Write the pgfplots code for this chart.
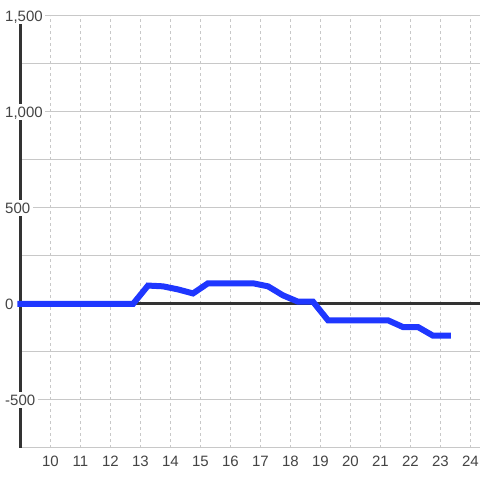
\documentclass[border=0pt]{standalone}
\usepackage{fontspec}
\setmainfont{Liberation Sans}
\usepackage{pgfplots}
\pgfplotsset{compat=1.18}
\definecolor{dark}{HTML}{333333}
\definecolor{grid}{HTML}{C8C8C8}
\definecolor{lbl}{HTML}{444444}
\definecolor{lineblue}{HTML}{1F37FF}
\begin{document}
\begin{tikzpicture}
\useasboundingbox (0,0) rectangle (480pt,480pt);
\begin{axis}[
  at={(20.5pt,32pt)}, anchor=south west,
  scale only axis, width=459.5pt, height=432pt,
  xmin=9, xmax=24.3167, ymin=-750, ymax=1500,
  clip=false,
  /pgf/number format/assume math mode=true,
  axis x line*=bottom, axis y line*=left,
  x axis line style={draw=none},
  y axis line style={draw=dark, line width=3pt, -},
  major tick length=0pt, minor tick length=0pt,
  xtick={10,...,24},
  ytick={-500,0,500,1000,1500},
  yticklabels={-500,0,500,{1,000},{1,500}},
  minor ytick={-750,-250,250,750,1250},
  xmajorgrids, ymajorgrids, yminorgrids,
  x grid style={grid, line width=1pt, dash pattern=on 3pt off 3pt},
  y grid style={grid, line width=1pt},
  minor y grid style={grid, line width=1pt},
  extra y ticks={0}, extra y tick labels={},
  extra tick style={
    y grid style={dark, line width=3pt, solid},
    major grid style={dark, line width=3pt, solid},
    yticklabel style={fill=none},
  },
  ticklabel style={font=\fontsize{15}{18}\selectfont, text=lbl},
  xticklabel style={anchor=north, inner sep=0pt, text height=10.7pt, text depth=0pt, yshift=-7.5pt},
  yticklabel style={anchor=west, fill=white, inner xsep=2.5pt, inner ysep=2.7pt, text height=10.7pt, text depth=0pt, xshift=-18pt},
]
\addplot[lineblue, line width=6pt, line cap=rect, line join=miter, mark=none] coordinates {
(9,0) (12.75,0) (13.25,96) (13.75,92) (14.25,76) (14.75,55) (15.25,108) (15.75,108)
(16.25,108) (16.75,108) (17.25,92) (17.75,45) (18.25,12) (18.75,12) (19.25,-85)
(19.75,-85) (20.25,-85) (20.75,-85) (21.25,-85) (21.75,-120) (22.25,-120) (22.75,-165) (23.25,-165)
};
\end{axis}
\end{tikzpicture}
\end{document}
